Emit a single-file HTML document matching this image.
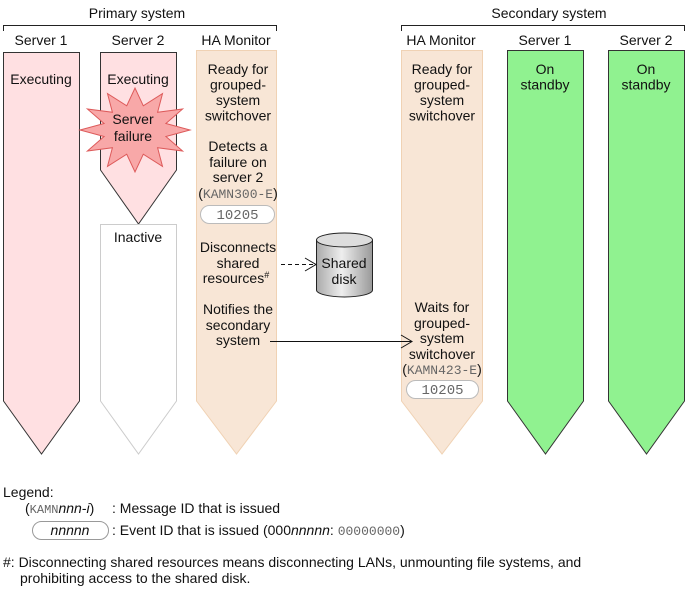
<!DOCTYPE html>
<html><head><style>body{margin:0;background:#fff}svg{display:block}</style></head>
<body>
<svg width="687" height="592" viewBox="0 0 687 592" xmlns="http://www.w3.org/2000/svg" font-family="Liberation Sans, sans-serif" font-size="14" fill="#111">
<defs>
<linearGradient id="cyl" x1="0" x2="1" y1="0" y2="0"><stop offset="0" stop-color="#aaa"/><stop offset="0.45" stop-color="#eee"/><stop offset="1" stop-color="#999"/></linearGradient>
</defs>
<path d="M3.5 31V25.5H276.5V31" fill="none" stroke="#222"/>
<path d="M401.5 31V25.5H684.5V31" fill="none" stroke="#222"/>
<text x="137" y="18" text-anchor="middle">Primary system</text>
<text x="549" y="18" text-anchor="middle">Secondary system</text>
<text x="41" y="45" text-anchor="middle">Server 1</text>
<text x="138" y="45" text-anchor="middle">Server 2</text>
<text x="236" y="45" text-anchor="middle">HA Monitor</text>
<text x="441" y="45" text-anchor="middle">HA Monitor</text>
<text x="545" y="45" text-anchor="middle">Server 1</text>
<text x="646" y="45" text-anchor="middle">Server 2</text>
<polygon points="3.5,52.5 79.5,52.5 79.5,401 41.5,454 3.5,401" fill="#ffe0e2" stroke="#333"/>
<polygon points="100.5,52.5 176.5,52.5 176.5,170 138.5,224 100.5,170" fill="#ffe0e2" stroke="#333"/>
<polygon points="100.5,224.5 176.5,224.5 176.5,401 138.5,454 100.5,401" fill="#fff" stroke="#ccc"/>
<polygon points="196.5,50.5 276.5,50.5 276.5,401 236.5,454 196.5,401" fill="#f8e6d6" stroke="#f0d2b4"/>
<polygon points="401.5,50.5 482.5,50.5 482.5,401 442,454 401.5,401" fill="#f8e6d6" stroke="#f0d2b4"/>
<polygon points="507.5,50.5 583.5,50.5 583.5,401 545.5,454 507.5,401" fill="#90f290" stroke="#333"/>
<polygon points="608.5,50.5 684.5,50.5 684.5,401 646.5,454 608.5,401" fill="#90f290" stroke="#333"/>
<polygon points="190,130 165.9,136.5 182.6,151 157.6,147.7 162.5,166.4 143.3,154.2 135,172 126.7,154.2 107.5,166.4 112.4,147.7 87.4,151 104.1,136.5 80,130 104.1,123.5 87.4,109 112.4,112.3 107.5,93.6 126.7,105.8 135,88 143.3,105.8 162.5,93.6 157.6,112.3 182.6,109 165.9,123.5" fill="#f8a8a8" stroke="#dd5a5a"/>
<g text-anchor="middle">
<text x="41" y="84">Executing</text>
<text x="138" y="84">Executing</text>
<text x="133" y="124">Server</text>
<text x="133" y="141">failure</text>
<text x="138" y="242">Inactive</text>
<text x="238" y="74">Ready for</text>
<text x="238" y="89.5">grouped-</text>
<text x="238" y="105">system</text>
<text x="238" y="120.5">switchover</text>
<text x="238" y="151">Detects a</text>
<text x="238" y="167">failure on</text>
<text x="238" y="182">server 2</text>
<text x="238" y="198">(<tspan font-family="Liberation Mono, monospace" font-size="13" fill="#666">KAMN300-E</tspan>)</text>
<text x="238" y="252">Disconnects</text>
<text x="238" y="268">shared</text>
<text x="236" y="283">resources<tspan font-size="9" dy="-5">#</tspan></text>
<text x="238" y="314">Notifies the</text>
<text x="238" y="330">secondary</text>
<text x="238" y="345">system</text>
<text x="442" y="74">Ready for</text>
<text x="442" y="89.5">grouped-</text>
<text x="442" y="105">system</text>
<text x="442" y="120.5">switchover</text>
<text x="442" y="312">Waits for</text>
<text x="442" y="328">grouped-</text>
<text x="442" y="343">system</text>
<text x="442" y="359">switchover</text>
<text x="442" y="374">(<tspan font-family="Liberation Mono, monospace" font-size="13" fill="#666">KAMN423-E</tspan>)</text>
<text x="545" y="74">On</text>
<text x="545" y="89.5">standby</text>
<text x="646" y="74">On</text>
<text x="646" y="89.5">standby</text>
</g>
<rect x="200.5" y="205.5" width="74" height="18" rx="9" fill="#fff" stroke="#bbb"/>
<text x="237.5" y="219" text-anchor="middle" font-family="Liberation Mono, monospace" font-size="14" fill="#666">10205</text>
<rect x="406.5" y="380.5" width="72" height="18" rx="9" fill="#fff" stroke="#bbb"/>
<text x="442.5" y="394" text-anchor="middle" font-family="Liberation Mono, monospace" font-size="14" fill="#666">10205</text>
<path d="M316.5 240 V290 A28 7 0 0 0 372.5 290 V240" fill="url(#cyl)" stroke="#222"/>
<ellipse cx="344.5" cy="240" rx="28" ry="7" fill="#ddd" stroke="#222"/>
<text x="344" y="268" text-anchor="middle">Shared</text>
<text x="344" y="284" text-anchor="middle">disk</text>
<path d="M281 264.5H315" stroke="#111" stroke-dasharray="4,3" fill="none"/>
<path d="M305 258L316 264.5L305 271" stroke="#111" fill="none"/>
<path d="M270 341.5H412" stroke="#111" fill="none"/>
<path d="M401 335L412 341.5L401 348" stroke="#111" fill="none"/>
<text x="3" y="497">Legend:</text>
<text x="25" y="513">(<tspan font-family="Liberation Mono, monospace" font-size="12" fill="#666">KAMN</tspan><tspan font-style="italic">nnn</tspan>-<tspan font-style="italic">i</tspan>)</text>
<text x="112" y="513">: Message ID that is issued</text>
<rect x="32.5" y="521.5" width="76" height="18" rx="9" fill="#fff" stroke="#999"/>
<text x="70" y="535" text-anchor="middle" font-style="italic">nnnnn</text>
<text x="112" y="535">: Event ID that is issued (000<tspan font-style="italic">nnnnn</tspan>: <tspan font-family="Liberation Mono, monospace" font-size="13" fill="#666">00000000</tspan>)</text>
<text x="3" y="567">#: Disconnecting shared resources means disconnecting LANs, unmounting file systems, and</text>
<text x="20" y="583">prohibiting access to the shared disk.</text>
</svg>
</body></html>
